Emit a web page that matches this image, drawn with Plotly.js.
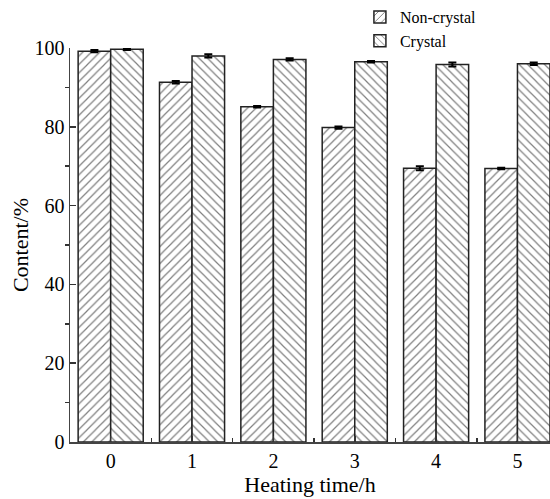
<!DOCTYPE html>
<html>
<head>
<meta charset="utf-8">
<script src="https://cdn.plot.ly/plotly-3.0.1.min.js"></script>
<style>body{margin:0;padding:0;background:#fff;} #chart{width:550px;height:499px;}</style>
</head>
<body>
<div id="chart"></div>
<script>
const categories = [0, 1, 2, 3, 4, 5];
const tickLabels = ["0", "1", "2", "3", "4", "5"];
const nonCrystal = [99.2, 91.3, 85.1, 79.8, 69.5, 69.4];
const nonCrystalErr = [0.3, 0.3, 0.2, 0.3, 0.5, 0.2];
const crystal = [99.7, 98.0, 97.1, 96.5, 95.8, 96.0];
const crystalErr = [0.2, 0.4, 0.3, 0.2, 0.5, 0.3];

const font = "'Liberation Serif', 'Times New Roman', serif";

function barTrace(name, y, err, shape) {
  return {
    type: 'bar', name: name, x: categories, y: y,
    marker: {
      color: '#ffffff',
      line: {color: '#222', width: 1.5},
      pattern: {shape: shape, size: 6, solidity: 0.2, fgcolor: '#000', bgcolor: '#ffffff', fillmode: 'overlay'}
    },
    error_y: {type: 'data', array: err, visible: true, color: '#000', thickness: 2, width: 4},
    cliponaxis: false
  };
}

const data = [
  barTrace('Non-crystal', nonCrystal, nonCrystalErr, '/'),
  barTrace('Crystal', crystal, crystalErr, '\\')
];

const layout = {
  width: 550, height: 499,
  margin: {l: 70, r: 0, t: 47, b: 57},
  paper_bgcolor: '#fff', plot_bgcolor: '#fff',
  barmode: 'group', bargap: 0.2, bargroupgap: 0,
  font: {family: font, color: '#000', size: 18},
  showlegend: true,
  legend: {
    x: 0.604, y: 1.122, xanchor: 'left', yanchor: 'top',
    font: {family: font, size: 16, color: '#000'},
    bgcolor: 'rgba(0,0,0,0)', tracegroupgap: 0, itemwidth: 30
  },
  xaxis: {
    type: 'linear', range: [-0.5, 5.4],
    tickvals: categories, ticktext: tickLabels,
    ticks: 'inside', ticklen: 6, tickwidth: 1.5, tickcolor: '#333',
    minor: {tickvals: [0.5, 1.5, 2.5, 3.5, 4.5], ticks: 'inside', ticklen: 4, tickcolor: '#333', tickwidth: 1.5},
    showline: true, linecolor: '#444', linewidth: 1.5,
    showgrid: false, zeroline: false,
    tickfont: {family: font, size: 20, color: '#000'},
    title: {text: 'Heating time/h', font: {family: font, size: 22, color: '#000'}, standoff: 6}
  },
  yaxis: {
    range: [0, 100],
    tickvals: [0, 20, 40, 60, 80, 100],
    ticks: 'inside', ticklen: 6, tickwidth: 1.5, tickcolor: '#333',
    minor: {tickvals: [10, 30, 50, 70, 90], ticks: 'outside', ticklen: 4, tickcolor: '#333', tickwidth: 1.5},
    showline: true, linecolor: '#444', linewidth: 1.5,
    showgrid: false, zeroline: false,
    tickfont: {family: font, size: 20, color: '#000'},
    title: {text: 'Content/%', font: {family: font, size: 22, color: '#000'}, standoff: 0}
  }
};

Plotly.newPlot('chart', data, layout, {displayModeBar: false, staticPlot: true});
</script>
</body>
</html>
